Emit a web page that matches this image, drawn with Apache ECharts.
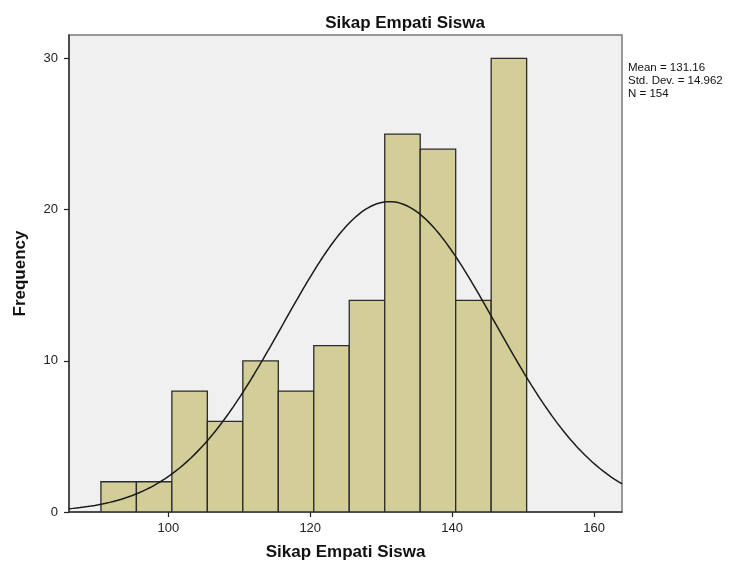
<!DOCTYPE html>
<html>
<head>
<meta charset="utf-8">
<script src="https://cdn.jsdelivr.net/npm/echarts@6/dist/echarts.min.js"></script>
<style>
html,body{margin:0;padding:0;background:#fff;}
#chart{width:753px;height:566px;}
</style>
</head>
<body>
<div id="chart"></div>
<script>
// Histogram bins (lower edges) and frequencies
const binStarts = [90.5, 95.5, 100.5, 105.5, 110.5, 115.5, 120.5, 125.5, 130.5, 135.5, 140.5, 145.5];
const binWidth = 5;
const frequencies = [2, 2, 8, 6, 10, 8, 11, 14, 25, 24, 14, 30];
const xTicks = [100, 120, 140, 160];
const yTicks = [0, 10, 20, 30];
// Summary statistics shown in the chart
const statMean = 131.16;
const statSd = 14.962;
const statN = 154;

const xMin = 86.0, xMax = 163.94, yMin = 0, yMax = 31.55;

const barData = binStarts.map((s, i) => [s, s + binWidth, frequencies[i]]);

// Fitted normal curve from the displayed mean / sd / N
const curve = [];
const steps = 300;
for (let i = 0; i <= steps; i++) {
  const x = xMin + (xMax - xMin) * i / steps;
  const z = (x - statMean) / statSd;
  const y = statN * binWidth * Math.exp(-0.5 * z * z) / (statSd * Math.sqrt(2 * Math.PI));
  curve.push([x, y]);
}

const chart = echarts.init(document.getElementById('chart'), null, {renderer: 'canvas'});
const fontFam = 'Arial, "Liberation Sans", sans-serif';
chart.setOption({
  animation: false,
  backgroundColor: '#ffffff',
  title: {
    text: 'Sikap Empati Siswa',
    left: 400, top: 10, textAlign: 'center',
    textStyle: {fontFamily: fontFam, fontSize: 17, fontWeight: 'bold', color: '#111'}
  },
  graphic: [{
    type: 'text', left: 628, top: 61,
    style: {
      text: 'Mean = ' + statMean.toFixed(2) + '\nStd. Dev. = ' + statSd.toFixed(3) + '\nN = ' + statN,
      font: '11.5px ' + fontFam, fill: '#111', lineHeight: 13
    }
  }],
  grid: {
    left: 69, right: 131, top: 35, bottom: 54,
    show: true, backgroundColor: '#f0f0f0', borderColor: '#7a7a7a', borderWidth: 1.5
  },
  xAxis: {
    type: 'value', min: xMin, max: xMax,
    name: 'Sikap Empati Siswa', nameLocation: 'middle', nameGap: 32,
    nameTextStyle: {fontFamily: fontFam, fontSize: 17, fontWeight: 'bold', color: '#111'},
    axisLine: {show: true, onZero: false, lineStyle: {color: '#333', width: 1.5}},
    axisTick: {show: true, length: 5, customValues: xTicks, lineStyle: {color: '#222', width: 1.2}},
    axisLabel: {customValues: xTicks, fontFamily: fontFam, fontSize: 13, color: '#222', margin: 10},
    splitLine: {show: false}
  },
  yAxis: {
    type: 'value', min: yMin, max: yMax,
    name: 'Frequency', nameLocation: 'middle', nameGap: 40, nameRotate: 90,
    nameTextStyle: {fontFamily: fontFam, fontSize: 17, fontWeight: 'bold', color: '#111'},
    axisLine: {show: true, onZero: false, lineStyle: {color: '#333', width: 1.5}},
    axisTick: {show: true, length: 5, customValues: yTicks, lineStyle: {color: '#222', width: 1.2}},
    axisLabel: {customValues: yTicks, fontFamily: fontFam, fontSize: 13, color: '#222', margin: 11},
    splitLine: {show: false}
  },
  series: [{
    type: 'custom',
    data: barData,
    encode: {x: [0, 1], y: 2},
    clip: true,
    renderItem: function (params, api) {
      const p0 = api.coord([api.value(0), api.value(2)]);
      const p1 = api.coord([api.value(1), 0]);
      return {
        type: 'rect',
        shape: {x: p0[0], y: p0[1], width: p1[0] - p0[0], height: p1[1] - p0[1]},
        style: {fill: '#d3ce98', stroke: '#2b2b2b', lineWidth: 1.3}
      };
    },
    z: 2
  }, {
    type: 'line',
    data: curve,
    showSymbol: false,
    smooth: false,
    clip: true,
    lineStyle: {color: '#1a1a1a', width: 1.5},
    z: 3
  }]
});
</script>
</body>
</html>
